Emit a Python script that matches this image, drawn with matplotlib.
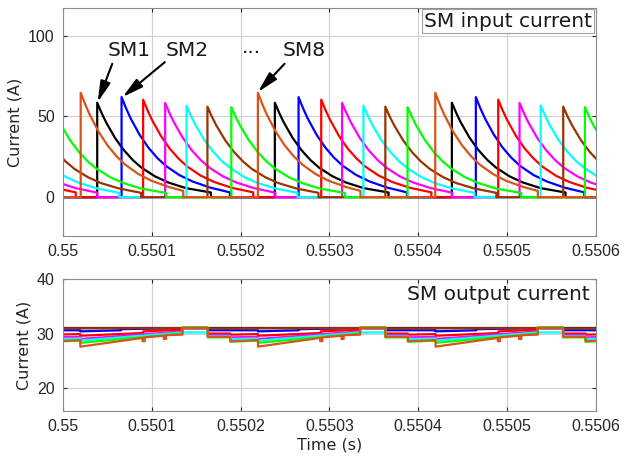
import numpy as np
import matplotlib
matplotlib.use("Agg")
import matplotlib.pyplot as plt

# time unit used below: 1e-4 s, measured from t = 0.55 s
T0 = 0.55
UNIT = 1e-4

sm_names = ["SM1", "SM2", "SM3", "SM4", "SM5", "SM6", "SM7", "SM8"]
sm_colors = ["#000000", "#0000ff", "#ff0000", "#ff00ff", "#00ffff", "#993300", "#00ff00", "#d95319"]

# ---- input current: rise instants of each pulse (1e-4 s after 0.55 s)
rise_times = [
    [-1.617, 0.385, 2.385, 4.378],   # SM1
    [-1.347, 0.659, 2.652, 4.648],   # SM2
    [-1.097, 0.902, 2.907, 4.900],   # SM3
    [-0.856, 1.150, 3.142, 5.140],   # SM4
    [-0.617, 1.390, 3.382, 5.378],   # SM5
    [-0.371, 1.626, 3.629, 5.632],   # SM6
    [-0.117, 1.895, 3.879, 5.876],   # SM7
    [-1.805, 0.199, 2.194, 4.191],   # SM8
]
# sample instants after the rise and the current read at them (A)
decay_dt = [0, 0.05, 0.1, 0.2, 0.3, 0.4, 0.5, 0.65, 0.8, 1.0]
decay_vals = [
    [58.4, 52.0, 46.3, 36.7, 29.1, 23.0, 18.2, 12.9, 9.1, 5.6],
    [61.9, 55.1, 49.0, 38.9, 30.8, 24.4, 19.3, 13.7, 9.7, 5.9],
    [60.3, 53.7, 47.8, 37.9, 30.0, 23.8, 18.8, 13.3, 9.4, 5.8],
    [58.3, 51.9, 46.2, 36.6, 29.0, 23.0, 18.2, 12.9, 9.1, 5.6],
    [56.6, 50.4, 44.8, 35.5, 28.2, 22.3, 17.7, 12.5, 8.8, 5.4],
    [56.0, 49.8, 44.4, 35.2, 27.9, 22.1, 17.5, 12.4, 8.7, 5.4],
    [55.7, 49.6, 44.1, 35.0, 27.7, 21.9, 17.4, 12.3, 8.7, 5.3],
    [64.6, 57.5, 51.2, 40.6, 32.2, 25.5, 20.2, 14.3, 10.1, 6.2],
]
pulse_len = [1.28, 1.22, 1.24, 1.24, 1.25, 1.25, 1.28, 1.155]
end_vals = [2.9, 3.0, 3.0, 2.8, 2.7, 2.7, 2.6, 3.9]

# ---- output current: one switching period of breakpoints (t, A), repeats every 2e-4 s
out_shifts = [0, 2, 4, 6]
out_t = {
    "SM1": [-0.655, 1.345],
    "SM2": [-0.655, -0.37, -0.37, 0.195, 0.195, 0.653, 0.653, 1.345],
    "SM3": [-0.655, -0.37, -0.37, -0.117, -0.117, 0.195, 0.195, 0.903, 0.903, 1.345],
    "SM4": [-0.655, -0.37, -0.37, -0.117, -0.117, 0.195, 0.195, 1.345],
    "SM5": [-0.655, -0.37, -0.37, -0.117, -0.117, 0.195, 0.195, 1.345],
    "SM6": [-0.655, -0.37, -0.37, 1.345],
    "SM7": [-0.655, -0.37, -0.37, -0.117, -0.117, 0.195, 0.195, 1.345],
    "SM8": [-0.655, -0.37, -0.37, -0.117, -0.117, 0.195, 0.195, 0.895, 0.895, 0.92, 0.92,
            1.135, 1.135, 1.16, 1.16, 1.345],
}
out_v = {
    "SM1": [31.05, 31.05],
    "SM2": [31.0, 31.0, 30.6, 30.6, 30.4, 30.6, 30.8, 31.0],
    "SM3": [31.0, 31.0, 30.0, 30.0, 29.8, 29.9, 29.6, 30.1, 30.4, 30.7],
    "SM4": [31.0, 31.0, 29.7, 29.7, 29.3, 29.4, 29.0, 30.4],
    "SM5": [30.2, 30.2, 29.5, 29.5, 29.0, 29.1, 28.7, 30.2],
    "SM6": [31.1, 31.1, 30.95, 31.0],
    "SM7": [31.1, 31.1, 29.3, 29.3, 28.5, 28.7, 28.3, 30.0],
    "SM8": [31.0, 31.0, 29.4, 29.4, 28.6, 28.8, 27.6, 29.2, 28.6, 28.6, 29.3,
            29.6, 29.0, 29.0, 29.7, 29.8],
}

x_ticks = [0.55, 0.5501, 0.5502, 0.5503, 0.5504, 0.5505, 0.5506]
x_labels = ["0.55", "0.5501", "0.5502", "0.5503", "0.5504", "0.5505", "0.5506"]


def input_wave(i):
    t = [-2.5]
    v = [0.0]
    for r in rise_times[i]:
        t += [r] + [r + d for d in decay_dt] + [r + pulse_len[i], r + pulse_len[i]]
        v += [0.0] + decay_vals[i] + [end_vals[i], 0.0]
    t.append(7.0)
    v.append(0.0)
    return T0 + np.array(t) * UNIT, np.array(v)


def output_wave(name):
    t, v = [], []
    for s in out_shifts:
        t += [x + s for x in out_t[name]]
        v += out_v[name]
    return T0 + np.array(t) * UNIT, np.array(v)


plt.rcParams["font.family"] = "DejaVu Sans"
fig = plt.figure(figsize=(6.24, 4.58), dpi=100)
ax1 = fig.add_axes([0.101, 0.4847, 0.854, 0.4978])
ax2 = fig.add_axes([0.101, 0.1026, 0.854, 0.2882])

for i in range(8):
    t, v = input_wave(i)
    ax1.plot(t, v, color=sm_colors[i], lw=1.6)
    t, v = output_wave(sm_names[i])
    ax2.plot(t, v, color=sm_colors[i], lw=1.6)

for ax in (ax1, ax2):
    ax.set_xlim(0.55, 0.5506)
    ax.set_xticks(x_ticks)
    ax.set_xticklabels(x_labels)
    ax.grid(True, color="#d0d0d0", lw=0.8)
    ax.set_axisbelow(True)
    ax.tick_params(direction="in", length=3, colors="#262626", labelsize=11.5,
                   top=True, right=True, pad=6)
    for lab in ax.get_xticklabels() + ax.get_yticklabels():
        lab.set_family("Liberation Sans")
    for sp in ax.spines.values():
        sp.set_color("#8c8c8c")
    ax.set_ylabel("Current (A)", fontsize=11.5, color="#262626", labelpad=4)

ax1.set_ylim(-24, 117)
ax1.set_yticks([0, 50, 100])
ax2.set_ylim(15.8, 40)
ax2.set_yticks([20, 30, 40])
ax2.set_xlabel("Time (s)", fontsize=11.5, color="#262626", labelpad=2)

ax1.text(0.9925, 0.942, "SM input current", transform=ax1.transAxes, ha="right",
         va="center", fontsize=14.5, color="#1a1a1a",
         bbox=dict(boxstyle="square,pad=0.12", fc="white", ec="#a0a0a0", lw=0.8))
ax2.text(0.989, 0.879, "SM output current", transform=ax2.transAxes, ha="right",
         va="center", fontsize=14.5, color="#1a1a1a")

# arrows pointing at the pulses
arrow_kw = dict(arrowstyle="-|>,head_length=0.9,head_width=0.22", color="k", lw=1.5,
                shrinkA=0, shrinkB=0, mutation_scale=14)
labels = [("SM1", 0.550074, 90.7, (0.5500554, 82.5), (0.550039, 58.8)),
          ("SM2", 0.550140, 90.7, (0.5501146, 83.5), (0.550067, 61.9)),
          ("SM8", 0.550271, 90.7, (0.5502494, 82.5), (0.5502194, 65.0))]
for txt, tx, ty, tail, tip in labels:
    ax1.text(tx, ty, txt, ha="center", va="center", fontsize=14.5, color="#1a1a1a")
    ax1.annotate("", xy=tip, xytext=tail, arrowprops=arrow_kw)
ax1.text(0.550212, 89.0, "···", ha="center", va="center", fontsize=14.5, color="#1a1a1a")

fig.savefig("out.png", dpi=100)
